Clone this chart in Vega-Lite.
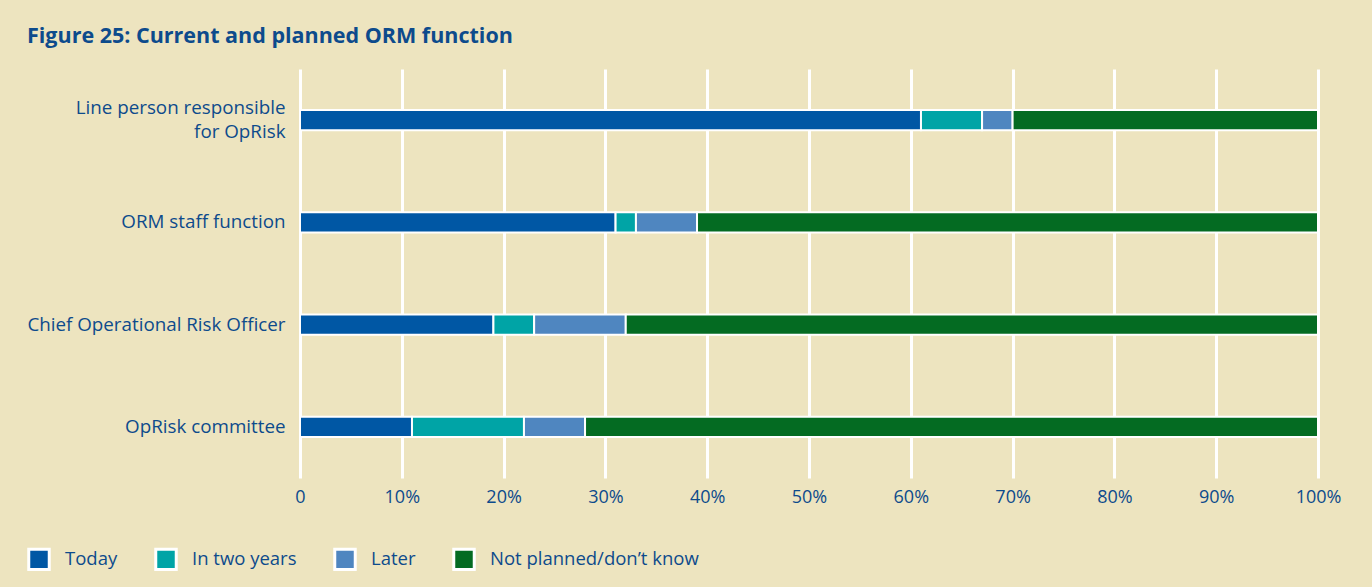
{
  "$schema": "https://vega.github.io/schema/vega-lite/v6.json",
  "width": 1018,
  "height": 409,
  "autosize": {"type": "none"},
  "padding": {"left": 300, "top": 69, "right": 54, "bottom": 109},
  "background": "#ede4bf",
  "title": {
    "text": "Figure 25: Current and planned ORM function",
    "anchor": "start",
    "frame": "group",
    "dx": -273,
    "dy": -5,
    "font": "Open Sans",
    "fontSize": 21.5,
    "fontWeight": "bold",
    "color": "#0d4b8c",
    "offset": 0,
    "baseline": "alphabetic"
  },
  "data": {
    "values": [
      {"category": "Line person responsible for OpRisk", "status": "Today", "value": 61, "k": 1},
      {"category": "Line person responsible for OpRisk", "status": "In two years", "value": 6, "k": 2},
      {"category": "Line person responsible for OpRisk", "status": "Later", "value": 3, "k": 3},
      {"category": "Line person responsible for OpRisk", "status": "Not planned/don’t know", "value": 30, "k": 4},
      {"category": "ORM staff function", "status": "Today", "value": 31, "k": 1},
      {"category": "ORM staff function", "status": "In two years", "value": 2, "k": 2},
      {"category": "ORM staff function", "status": "Later", "value": 6, "k": 3},
      {"category": "ORM staff function", "status": "Not planned/don’t know", "value": 61, "k": 4},
      {"category": "Chief Operational Risk Officer", "status": "Today", "value": 19, "k": 1},
      {"category": "Chief Operational Risk Officer", "status": "In two years", "value": 4, "k": 2},
      {"category": "Chief Operational Risk Officer", "status": "Later", "value": 9, "k": 3},
      {"category": "Chief Operational Risk Officer", "status": "Not planned/don’t know", "value": 68, "k": 4},
      {"category": "OpRisk committee", "status": "Today", "value": 11, "k": 1},
      {"category": "OpRisk committee", "status": "In two years", "value": 11, "k": 2},
      {"category": "OpRisk committee", "status": "Later", "value": 6, "k": 3},
      {"category": "OpRisk committee", "status": "Not planned/don’t know", "value": 72, "k": 4}
    ]
  },
  "mark": {"type": "bar", "stroke": "white", "strokeWidth": 2},
  "encoding": {
    "y": {
      "field": "category",
      "type": "nominal",
      "sort": ["Line person responsible for OpRisk", "ORM staff function", "Chief Operational Risk Officer", "OpRisk committee"],
      "scale": {"paddingInner": 0.8, "paddingOuter": 0.4},
      "axis": {
        "title": null,
        "domain": false,
        "ticks": false,
        "grid": false,
        "labelPadding": 15,
        "labelFont": "Open Sans",
        "labelFontSize": 18.8,
        "labelColor": "#0d4b8c",
        "labelLineHeight": 24,
        "labelLimit": 400,
        "labelOffset": {"condition": {"test": "datum.value == 'Line person responsible for OpRisk'", "value": -12}, "value": 0},
        "labelExpr": "datum.label == 'Line person responsible for OpRisk' ? ['Line person responsible', 'for OpRisk'] : datum.label"
      }
    },
    "x": {
      "field": "value",
      "type": "quantitative",
      "stack": "zero",
      "scale": {"domain": [0, 100], "nice": false},
      "axis": {
        "title": null,
        "values": [0, 10, 20, 30, 40, 50, 60, 70, 80, 90, 100],
        "domain": false,
        "ticks": false,
        "grid": true,
        "gridColor": "white",
        "gridWidth": 3,
        "gridOpacity": 1,
        "labelPadding": 10,
        "labelFlush": false,
        "labelFont": "Open Sans",
        "labelFontSize": 18,
        "labelColor": "#0d4b8c",
        "labelExpr": "datum.value == 0 ? '0' : datum.value + '%'"
      }
    },
    "color": {
      "field": "status",
      "type": "nominal",
      "scale": {
        "domain": ["Today", "In two years", "Later", "Not planned/don’t know"],
        "range": ["#0057a4", "#00a4a6", "#4f86c0", "#046b22"]
      },
      "legend": {
        "title": null,
        "orient": "none",
        "direction": "horizontal",
        "legendX": -273,
        "legendY": 478,
        "symbolType": "square",
        "symbolSize": 420,
        "symbolStrokeColor": "white",
        "symbolStrokeWidth": 3,
        "symbolOpacity": 1,
        "labelFont": "Open Sans",
        "labelFontSize": 18.5,
        "labelColor": "#0d4b8c",
        "labelOffset": 14,
        "columnPadding": 31,
        "labelLimit": 400
      }
    },
    "order": {"field": "k", "type": "quantitative"}
  },
  "config": {
    "view": {"stroke": null}
  }
}
